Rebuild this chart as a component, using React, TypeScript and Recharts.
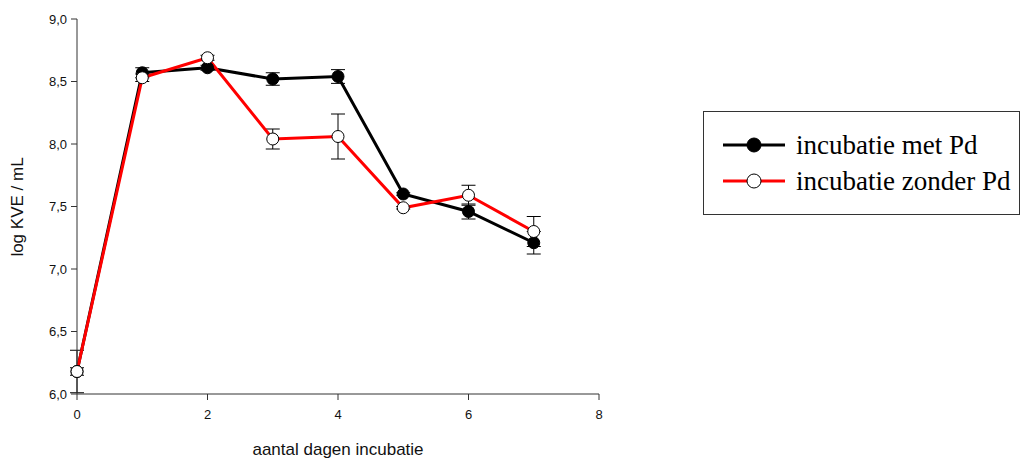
import React from "react";
import { LineChart, Line, XAxis, YAxis, ErrorBar, Label } from "recharts";

// days of incubation
const days = [0, 1, 2, 3, 4, 5, 6, 7];

// log KVE / mL, with Pd
const metPd = [6.18, 8.57, 8.61, 8.52, 8.54, 7.6, 7.46, 7.21];
const metPdErr = [0.17, 0.04, 0.02, 0.05, 0.055, 0.01, 0.06, 0.09];

// log KVE / mL, without Pd
const zonderPd = [6.18, 8.53, 8.69, 8.04, 8.06, 7.49, 7.59, 7.3];
const zonderPdErr = [0.03, 0.03, 0.02, 0.08, 0.18, 0.01, 0.08, 0.12];

const xTicks = [0, 2, 4, 6, 8];
const yTicks = [6, 6.5, 7, 7.5, 8, 8.5, 9];

const rows = days.map((d, i) => ({
  day: d,
  met: metPd[i],
  metErr: metPdErr[i],
  zonder: zonderPd[i],
  zonderErr: zonderPdErr[i],
}));

const fmt = (v: number) => v.toFixed(1).replace(".", ",");

const legendItems = [
  { name: "incubatie met Pd", color: "#000", fill: "#000" },
  { name: "incubatie zonder Pd", color: "#ff0000", fill: "#fff" },
];

const LegendBox = () => (
  <div
    style={{
      position: "absolute",
      left: 703,
      top: 111,
      width: 317,
      height: 104,
      border: "1.5px solid #333",
      boxSizing: "border-box",
      fontFamily: "'Liberation Serif', 'Times New Roman', serif",
      fontSize: 27,
      color: "#000",
      paddingTop: 15,
    }}
  >
    {legendItems.map((item) => (
      <div
        key={item.name}
        style={{ display: "flex", alignItems: "center", height: 36, whiteSpace: "nowrap" }}
      >
        <svg width={73} height={20} style={{ marginLeft: 19, flexShrink: 0 }}>
          <line x1={0} y1={10} x2={62} y2={10} stroke={item.color} strokeWidth={3} />
          <circle cx={31} cy={10} r={7} fill={item.fill} stroke="#000" strokeWidth={1} />
        </svg>
        <span>{item.name}</span>
      </div>
    ))}
  </div>
);

const axisFont = "'Liberation Sans', Arial, sans-serif";

const App = () => {
  return (
    <div
      style={{
        position: "absolute",
        left: 0,
        top: 0,
        width: 1022,
        height: 459,
        background: "#fff",
      }}
    >
      <LineChart
        width={1022}
        height={459}
        data={rows}
        margin={{ top: 19, right: 423, left: 0, bottom: 0 }}
      >
        <XAxis
          dataKey="day"
          type="number"
          domain={[0, 8]}
          ticks={xTicks}
          height={65}
          stroke="#333"
          tickSize={6}
          tickMargin={10}
          tick={{ fill: "#111", fontSize: 13, fontFamily: axisFont }}
        >
          <Label
            content={() => (
              <text
                x={338}
                y={455}
                textAnchor="middle"
                fontSize={17}
                fontFamily={axisFont}
                fill="#111"
              >
                aantal dagen incubatie
              </text>
            )}
          />
        </XAxis>
        <YAxis
          type="number"
          domain={[6, 9]}
          ticks={yTicks}
          width={77}
          stroke="#333"
          tickSize={6}
          tickMargin={4}
          tickFormatter={fmt}
          tick={{ fill: "#111", fontSize: 13, fontFamily: axisFont }}
        >
          <Label
            content={() => (
              <text
                x={23}
                y={207}
                transform="rotate(-90 23 207)"
                textAnchor="middle"
                fontSize={17}
                fontFamily={axisFont}
                fill="#111"
              >
                log KVE / mL
              </text>
            )}
          />
        </YAxis>
        <Line
          dataKey="met"
          name="incubatie met Pd"
          stroke="#000"
          strokeWidth={3}
          isAnimationActive={false}
          dot={{ r: 6, fill: "#000", stroke: "#000", strokeWidth: 1 }}
        >
          <ErrorBar dataKey="metErr" width={7} stroke="#000" strokeWidth={1} />
        </Line>
        <Line
          dataKey="zonder"
          name="incubatie zonder Pd"
          stroke="#ff0000"
          strokeWidth={3}
          isAnimationActive={false}
          dot={{ r: 6, fill: "#fff", stroke: "#000", strokeWidth: 1 }}
        >
          <ErrorBar dataKey="zonderErr" width={7} stroke="#000" strokeWidth={1} />
        </Line>
      </LineChart>
      <LegendBox />
    </div>
  );
};

export default App;
